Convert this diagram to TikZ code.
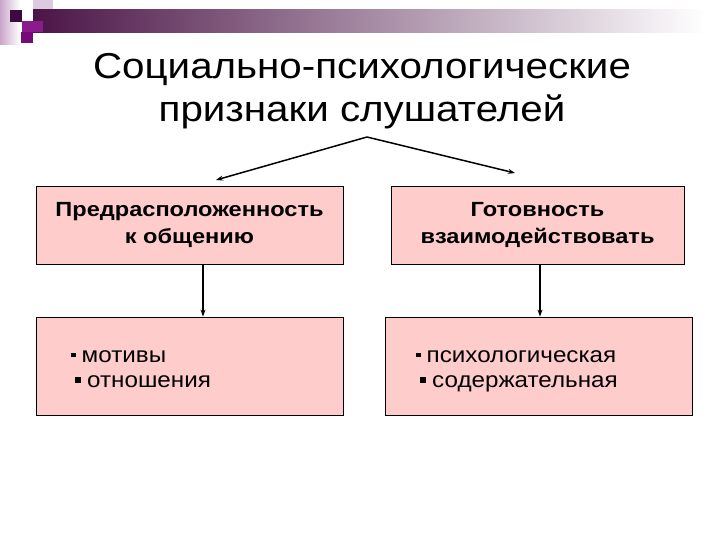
\documentclass[tikz,border=0pt]{standalone}
\usepackage{fontspec}
\setmainfont{Liberation Sans}
\newfontfamily\titlefont[FakeStretch=1.12]{Liberation Sans}
\newfontfamily\boxfont[FakeStretch=1.15]{Liberation Sans}
\newfontfamily\itemfont[FakeStretch=1.1]{Liberation Sans}
\usetikzlibrary{arrows.meta}
\definecolor{boxpink}{HTML}{FFCCCC}
\definecolor{darksq}{HTML}{3C0A3C}
\definecolor{purpsq}{HTML}{8B1A8B}
\definecolor{magsq}{HTML}{760A76}
\definecolor{mauve}{HTML}{C8A6C8}
\definecolor{barleft}{HTML}{4B1547}
\definecolor{barmid}{HTML}{A39CA3}
\tikzset{
  headbox/.style={draw=black, line width=0.8pt, fill=boxpink, minimum width=307pt, minimum height=78pt,
    align=center, inner sep=0pt, font=\boxfont\bfseries\fontsize{20.5}{27}\selectfont},
  listbox/.style={draw=black, line width=0.8pt, fill=boxpink, minimum width=307pt, minimum height=98pt, inner sep=0pt},
  itemtext/.style={anchor=base west, inner sep=0pt, font=\itemfont\fontsize{22}{26}\selectfont},
  conn/.style={line width=1.5pt, -{Stealth[length=7pt, width=5pt]}}
}
\begin{document}
\begin{tikzpicture}[x=1pt, y=-1pt]
\path[use as bounding box] (0,0) rectangle (720,540);
% decoration
\shade[left color=mauve, right color=white] (0,0) rectangle (20,45);
\fill[mauve!60] (33,0) rectangle (53,10);
\shade[left color=barleft, middle color=barmid, right color=white] (33,10) rectangle (705,33);
\fill[darksq] (10,10) rectangle (22,22);
\fill[purpsq] (22,21) rectangle (43,32);
\fill[magsq] (21,32) rectangle (33,43);
% title
\node[align=center, inner sep=0pt, font=\titlefont\fontsize{36}{43}\selectfont, anchor=base] (title) at (362,122)
  {Социально-психологические\\признаки слушателей};
\coordinate (apex) at (367,137);
% head boxes
\node[headbox] (tl) at (189.5,225) {Предрасположенность\\к общению};
\node[headbox, minimum width=293pt] (tr) at (537.5,225) {Готовность\\взаимодействовать};
\coordinate (tlend) at (216,180);
\coordinate (trend) at (515,173);
\draw[conn] (apex) -- (tlend);
\draw[conn] (apex) -- (trend);
% list boxes
\node[listbox] (bl) at (189.5,366) {};
\node[listbox] (br) at (538.5,366) {};
\draw[conn] ([xshift=13.5pt]tl.south) -- ([xshift=13.5pt]tl.south |- bl.north);
\draw[conn] ([xshift=2.5pt]tr.south) -- ([xshift=2.5pt]tr.south |- br.north);
% items
\node[itemtext] (l1) at (71,362) {\rule[5pt]{4.5pt}{4.5pt}\hspace{6pt}мотивы};
\node[itemtext] (l2) at (75,387) {\rule[4pt]{6pt}{6pt}\hspace{6pt}отношения};
\node[itemtext] (r1) at (416,362) {\rule[5pt]{4.5pt}{4.5pt}\hspace{6pt}психологическая};
\node[itemtext] (r2) at (420,387) {\rule[4pt]{6pt}{6pt}\hspace{6pt}содержательная};
\end{tikzpicture}
\end{document}
